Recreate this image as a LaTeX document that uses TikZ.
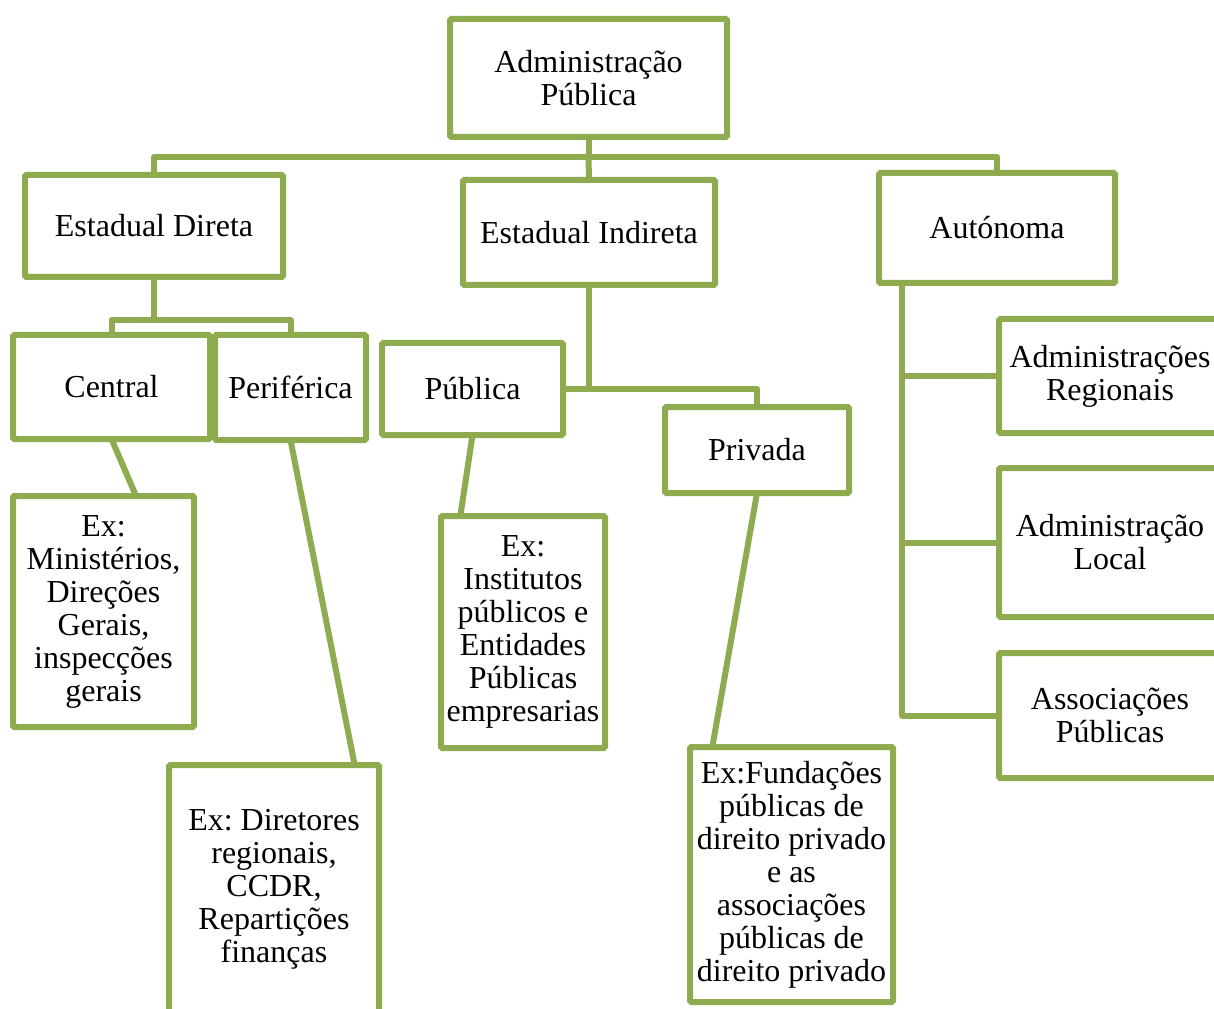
\documentclass[tikz,border=0pt]{standalone}
\usepackage{fontspec}
\setmainfont{Liberation Serif}
\usetikzlibrary{calc}
\definecolor{olive}{RGB}{143,171,80}
\frenchspacing
\begin{document}
\begin{tikzpicture}[x=0.75pt,y=-0.75pt,
  box/.style 2 args={draw=olive, line width=4.5pt, rounded corners=1pt, fill=white,
    minimum width=#1*0.75pt, minimum height=#2*0.75pt, inner sep=2pt, outer sep=0pt,
    align=center, font=\fontsize{24}{24.75}\selectfont\frenchspacing},
  conn/.style={draw=olive, line width=4.5pt, line join=round}]
\clip (0,0) rectangle (1214,1009);
\fill[white] (0,0) rectangle (1214,1009);
\coordinate (j1) at (590,157);
\coordinate (j2) at (154,320);
\coordinate (ax) at (902,0);
% nodes
\node[box={277}{118}] (top) at (588.5,78) {Administração\\Pública};
\node[box={258}{102}] (ed) at (154,226) {Estadual Direta};
\node[box={252}{105}] (ei) at (589,232.5) {Estadual Indireta};
\node[box={236}{110}] (aut) at (997,228) {Autónoma};
\node[box={197}{104}] (central) at (111.5,387) {Central};
\node[box={151}{105}] (perif) at (290.5,387.5) {Periférica};
\node[box={181}{92}] (pub) at (472.5,389) {Pública};
\node[box={184}{86}] (priv) at (757,450) {Privada};
\node[box={181}{231}] (exmin) at (103.5,611.5) {Ex:\\Ministérios,\\Direções\\Gerais,\\inspecções\\gerais};
\node[box={210}{248}] (exdir) at (274,889) {Ex: Diretores\\regionais,\\CCDR,\\Repartições\\finanças};
\node[box={164}{232}] (exinst) at (523,632) {Ex:\\Institutos\\públicos e\\Entidades\\Públicas\\empresarias};
\node[box={203}{255}] (exfund) at (791.5,874.5) {Ex:Fundações\\públicas de\\direito privado\\e as\\associações\\públicas de\\direito privado};
\node[box={222}{114}] (reg) at (1110,376) {Administrações\\Regionais};
\node[box={222}{149}] (loc) at (1110,542.5) {Administração\\Local};
\node[box={222}{125}] (assoc) at (1110,715.5) {Associações\\Públicas};
% connectors
\draw[conn] (top.south) -- (top.south |- j1) -| (ed.north);
\draw[conn] (top.south |- j1) -| (aut.north);
\draw[conn] (top.south |- j1) -- (ei.north);
\draw[conn] (ed.south) -- (ed.south |- j2) -| (central.north);
\draw[conn] (ed.south |- j2) -| (perif.north);
\draw[conn] (ei.south) |- (pub.east);
\draw[conn] (ei.south |- pub.east) -| (priv.north);
\coordinate (a0) at (aut.south -| ax);
\draw[conn] (a0) |- (reg.west);
\draw[conn] (a0) |- (loc.west);
\draw[conn] (a0) |- (assoc.west);
\draw[conn] (central.south) -- ($(exmin.north west)!0.68!(exmin.north east)$);
\draw[conn] (perif.south) -- ($(exdir.north west)!0.884!(exdir.north east)$);
\draw[conn] (pub.south) -- ($(exinst.north west)!0.118!(exinst.north east)$);
\draw[conn] (priv.south) -- ($(exfund.north west)!0.11!(exfund.north east)$);
\end{tikzpicture}
\end{document}
